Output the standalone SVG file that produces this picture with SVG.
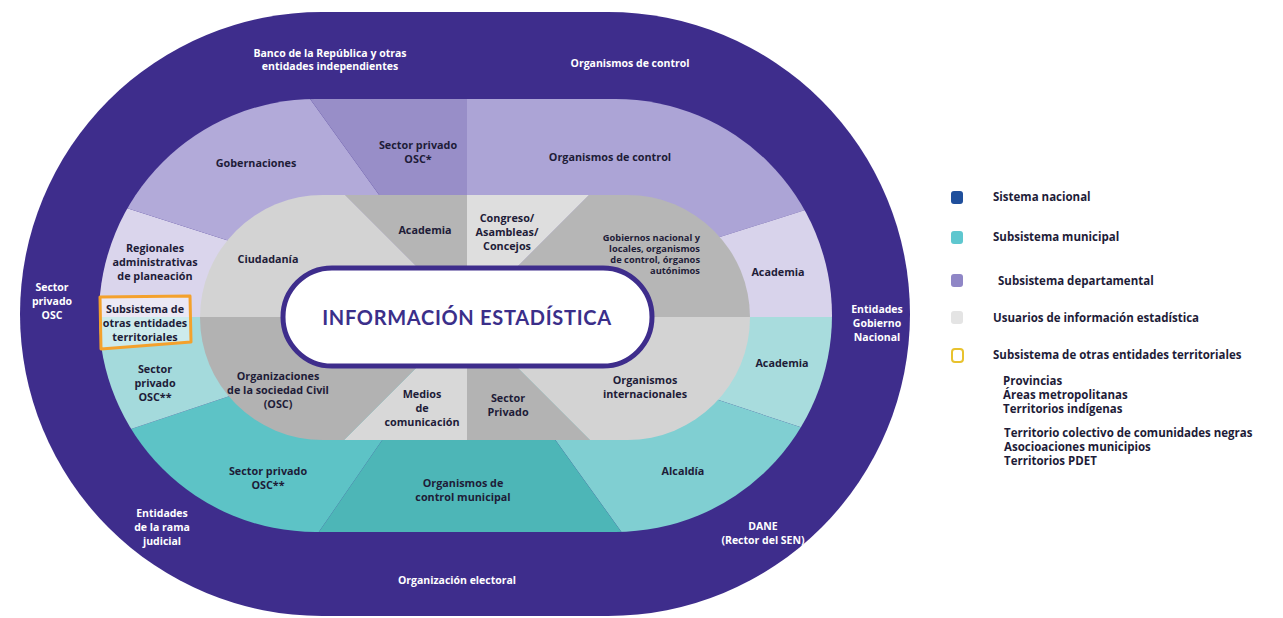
<svg xmlns="http://www.w3.org/2000/svg" width="1283" height="618" viewBox="0 0 1283 618">
<style>
text{font-family:"Open Sans","Liberation Sans",sans-serif;font-weight:700;font-size:10.8px;text-anchor:middle}
.w{fill:#ffffff;font-size:10.5px}
.d{fill:#1e1c38}
.s{font-size:9.3px}
.lg{font-size:11.5px;text-anchor:start;fill:#1e1c38}
.title{font-family:Lato,"Liberation Sans",sans-serif;font-size:20px;fill:#3b2f8a;letter-spacing:0.7px}
</style>
<defs>
<clipPath id="midClip"><rect x="99" y="99" width="733" height="433" rx="216.5" ry="216.5"/></clipPath>
<clipPath id="grayClip"><rect x="200" y="195" width="550" height="245" rx="122.5" ry="122.5"/></clipPath>
</defs>
<rect width="1283" height="618" fill="#ffffff"/>
<g id="outer-ring">
<rect x="20" y="12" width="890" height="604" rx="302" ry="302" fill="#3e2d8c"/>
<text class="w" x="330" y="57">Banco de la República y otras</text>
<text class="w" x="330" y="70">entidades independientes</text>
<text class="w" x="630" y="67">Organismos de control</text>
<text class="w" x="52" y="291">Sector</text>
<text class="w" x="52" y="305">privado</text>
<text class="w" x="52" y="319">OSC</text>
<text class="w" x="877" y="313">Entidades</text>
<text class="w" x="877" y="327">Gobierno</text>
<text class="w" x="877" y="341">Nacional</text>
<text class="w" x="162" y="517">Entidades</text>
<text class="w" x="162" y="531">de la rama</text>
<text class="w" x="162" y="545">judicial</text>
<text class="w" x="763" y="530">DANE</text>
<text class="w" x="763" y="544">(Rector del SEN)</text>
<text class="w" x="457" y="584">Organización electoral</text>
</g>
<g id="middle-ring" clip-path="url(#midClip)">
<polygon id="regionales" points="467,317 -602,317 -602,-25" fill="#dad5ec"/>
<polygon id="gobernaciones" points="467,317 -602,-25 -602,-539 -149,-539" fill="#b2aad9"/>
<polygon id="sp-osc1" points="467,317 -149,-539 467,-539" fill="#988ec8"/>
<polygon id="org-control" points="467,317 467,-539 1517,-539 1517,-15" fill="#aca4d6"/>
<polygon id="academia-dep" points="467,317 1517,-15 1517,317" fill="#d8d3eb"/>
<polygon id="academia-mun" points="467,317 1517,317 1509,661" fill="#a8dcdd"/>
<polygon id="alcaldia" points="467,317 1509,661 1509,999 957,999" fill="#80cfd2"/>
<polygon id="org-municipal" points="467,317 957,999 -3,999" fill="#4db6b7"/>
<polygon id="sp-osc2" points="467,317 -3,999 -589,999 -589,669" fill="#5dc3c6"/>
<polygon id="sp-osc3" points="467,317 -589,669 -589,317" fill="#a4dadc"/>
</g>
<g id="middle-labels">
<text class="d" x="256" y="167">Gobernaciones</text>
<text class="d" x="418" y="149">Sector privado</text>
<text class="d" x="418" y="163">OSC*</text>
<text class="d" x="610" y="161">Organismos de control</text>
<text class="d" x="155" y="252">Regionales</text>
<text class="d" x="155" y="266">administrativas</text>
<text class="d" x="155" y="280">de planeación</text>
<text class="d" x="778" y="276">Academia</text>
<text class="d" x="782" y="367">Academia</text>
<text class="d" x="683" y="475">Alcaldía</text>
<text class="d" x="463" y="487">Organismos de</text>
<text class="d" x="463" y="501">control municipal</text>
<text class="d" x="268" y="475">Sector privado</text>
<text class="d" x="268" y="489">OSC**</text>
<text class="d" x="155" y="373">Sector</text>
<text class="d" x="155" y="387">privado</text>
<text class="d" x="155" y="401">OSC**</text>
</g>
<g id="user-ring" clip-path="url(#grayClip)">
<polygon id="ciudadania" points="467,317 67,317 67,-83" fill="#d3d3d3"/>
<polygon id="academia-u" points="467,317 67,-83 467,-83" fill="#b5b5b5"/>
<polygon id="congreso" points="467,317 467,-83 867,-83" fill="#dedede"/>
<polygon id="gobiernos" points="467,317 867,-83 867,317" fill="#b6b6b6"/>
<polygon id="org-intl" points="467,317 867,317 867,717" fill="#d3d3d3"/>
<polygon id="sector-privado" points="467,317 867,717 467,717" fill="#b3b3b3"/>
<polygon id="medios" points="467,317 467,717 67,717" fill="#d8d8d8"/>
<polygon id="osc" points="467,317 67,717 67,317" fill="#b2b2b2"/>
</g>
<g id="user-labels">
<text class="d" x="268" y="263">Ciudadanía</text>
<text class="d" x="425" y="234">Academia</text>
<text class="d" x="507" y="222">Congreso/</text>
<text class="d" x="507" y="236">Asambleas/</text>
<text class="d" x="507" y="250">Concejos</text>
<text class="d s" x="700" y="241" style="text-anchor:end">Gobiernos nacional y</text>
<text class="d s" x="700" y="252" style="text-anchor:end">locales, organismos</text>
<text class="d s" x="700" y="263" style="text-anchor:end">de control, órganos</text>
<text class="d s" x="700" y="274" style="text-anchor:end">autónimos</text>
<text class="d" x="278" y="380">Organizaciones</text>
<text class="d" x="278" y="394">de la sociedad Civil</text>
<text class="d" x="278" y="408">(OSC)</text>
<text class="d" x="422" y="398">Medios</text>
<text class="d" x="422" y="412">de</text>
<text class="d" x="422" y="426">comunicación</text>
<text class="d" x="508" y="402">Sector</text>
<text class="d" x="508" y="416">Privado</text>
<text class="d" x="645" y="384">Organismos</text>
<text class="d" x="645" y="398">internacionales</text>
</g>
<g id="center">
<rect x="283" y="268" width="369" height="98" rx="49" ry="49" fill="#ffffff" stroke="#3e2d8c" stroke-width="5"/>
<text class="title" x="467" y="325">INFORMACIÓN ESTADÍSTICA</text>
</g>
<g id="otras-entidades">
<polygon points="100,297 190,296 191,342 101,349" fill="#ffffff" fill-opacity="0.45" stroke="#f4a12c" stroke-width="3" stroke-linejoin="round"/>
<text class="d" x="145" y="313">Subsistema de</text>
<text class="d" x="145" y="327">otras entidades</text>
<text class="d" x="145" y="341">territoriales</text>
</g>
<g id="legend">
<rect x="951" y="191" width="12" height="13" rx="3" fill="#1f4f9c"/>
<text class="lg" x="993" y="201">Sistema nacional</text>
<rect x="951" y="231" width="12" height="13" rx="3" fill="#5ec7cf"/>
<text class="lg" x="993" y="241">Subsistema municipal</text>
<rect x="951" y="274" width="12" height="13" rx="3" fill="#8f86c6"/>
<text class="lg" x="998" y="285">Subsistema departamental</text>
<rect x="951" y="311" width="12" height="13" rx="3" fill="#e4e4e4"/>
<text class="lg" x="993" y="322">Usuarios de información estadística</text>
<rect x="952" y="349" width="11" height="13" rx="3" fill="#ffffff" stroke="#e8c22e" stroke-width="2"/>
<text class="lg" x="993" y="359">Subsistema de otras entidades territoriales</text>
<text class="lg" x="1003" y="385">Provincias</text>
<text class="lg" x="1003" y="399">Áreas metropolitanas</text>
<text class="lg" x="1003" y="413">Territorios indígenas</text>
<text class="lg" x="1004" y="437">Territorio colectivo de comunidades negras</text>
<text class="lg" x="1004" y="451">Asocioaciones municipios</text>
<text class="lg" x="1004" y="465">Territorios PDET</text>
</g>
</svg>
